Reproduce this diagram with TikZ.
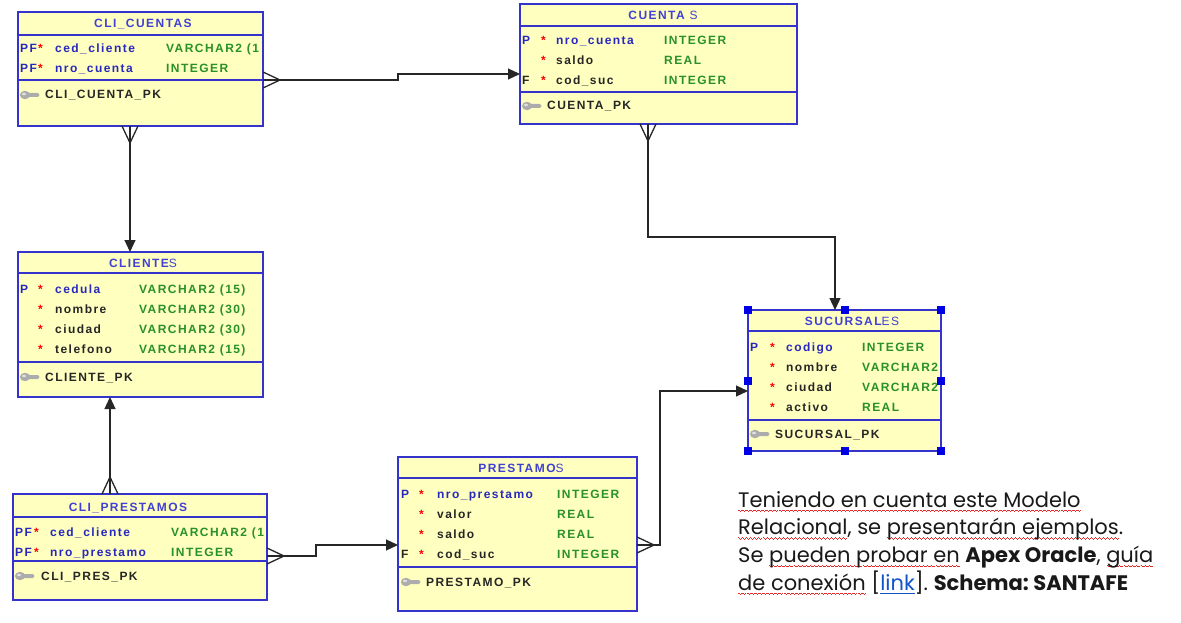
\documentclass[tikz,border=0pt]{standalone}
\usepackage{fontspec}
\setmainfont{Poppins}
\newfontfamily\erfont[LetterSpace=12]{Liberation Sans}
\usetikzlibrary{arrows.meta}

\definecolor{erfill}{RGB}{255,255,192}
\definecolor{erline}{RGB}{52,52,205}
\definecolor{ertitle}{RGB}{64,64,215}
\definecolor{erkey}{RGB}{40,40,190}
\definecolor{ergreen}{RGB}{40,145,40}
\definecolor{spellred}{RGB}{230,40,40}
\definecolor{linkblue}{RGB}{17,85,204}
\definecolor{notetext}{RGB}{25,25,25}

% red wavy line of the spell checker, and the link underline
\newcommand\spell[1]{\setbox0\hbox{#1}\rlap{\color{spellred}\lower4.5pt\hbox to\wd0{\xleaders\hbox{\rule[1.2pt]{1pt}{0.8pt}\rule[0.5pt]{1pt}{0.8pt}\rule[-0.2pt]{1pt}{0.8pt}\rule[0.5pt]{1pt}{0.8pt}}\hfil}}\box0\relax}
\newcommand\lnk[1]{\setbox0\hbox{#1}\rlap{\lower3.5pt\hbox{\rule{\wd0}{1.2pt}}}\box0\relax}

\tikzset{
  pkkey/.pic={
    \fill[gray!65] (-4,0) ellipse (5 and 4.2);
    \fill[gray!65] (0,-2) -- (9,-2) -- (10.5,0) -- (9,2) -- (0,2) -- cycle;
    \fill[gray!25] (-5,-1) ellipse (2 and 1.3);
  }
}

\begin{document}
\frenchspacing
\begin{tikzpicture}[
  x=1pt,y=-1pt,
  tbl/.style={draw=erline,line width=1.2,fill=erfill,anchor=north west,inner sep=0,outer sep=0},
  tblline/.style={draw=erline,line width=1.2},
  ttl/.style={anchor=base,inner sep=0,text=ertitle,font=\erfont\bfseries\fontsize{12}{14}\selectfont},
  flag/.style={anchor=base west,inner sep=0,text=erkey,font=\erfont\bfseries\fontsize{12}{14}\selectfont},
  star/.style={anchor=base west,inner sep=0,text=red,font=\erfont\bfseries\fontsize{12}{14}\selectfont},
  pk/.style={flag},
  np/.style={flag,text=black!85},
  typ/.style={flag,text=ergreen},
  keyname/.style={flag,text=black!85},
  fk/.style={draw=black!85,line width=1.2,-{Triangle[length=12pt,width=11pt]}},
  crow/.style={draw=black!85,line width=1.3},
  handle/.style={fill=blue!90!black},
  note/.style={anchor=north west,inner sep=0,align=left,text=notetext,font=\fontsize{21}{27.7}\selectfont}
]
  \useasboundingbox[fill=white] (0,0) rectangle (1181,623);

  % CLI_CUENTAS
  \node[tbl,minimum width=245,minimum height=114] (clicu) at (18,12) {};
  \draw[tblline] (18,35) -- (263,35);
  \draw[tblline] (18,80) -- (263,80);
  \node[ttl] (cc-t) at (143,28) {CLI\_CUENTAS};
  \foreach \f/\s/\n/\t [count=\i] in {PF/pk/ced\_cliente/VARCHAR2 (1,PF/pk/nro\_cuenta/INTEGER}{
    \node[flag] (cc-f\i) at (20,33+20*\i) {\f};
    \node[star] (cc-s\i) at (38,33+20*\i) {*};
    \node[\s] (cc-n\i) at (55,33+20*\i) {\n};
    \node[typ] (cc-y\i) at (166,33+20*\i) {\t};
  }
  \pic at (29,95) {pkkey};
  \node[keyname] (cc-k) at (45,99) {CLI\_CUENTA\_PK};

  % CUENTAS
  \node[tbl,minimum width=277,minimum height=120] (cuentas) at (520,4) {};
  \draw[tblline] (520,26) -- (797,26);
  \draw[tblline] (520,92) -- (797,92);
  \node[ttl] (cu-t) at (663,20) {CUENTA {\mdseries S}};
  \foreach \f/\s/\n/\t [count=\i] in {P/pk/nro\_cuenta/INTEGER,{}/np/saldo/REAL,{}/np/cod\_suc/INTEGER}{
    \node[flag] (cu-f\i) at (522,25+20*\i) {\f};
    \node[star] (cu-s\i) at (541,25+20*\i) {*};
    \node[\s] (cu-n\i) at (556,25+20*\i) {\n};
    \node[typ] (cu-y\i) at (664,25+20*\i) {\t};
  }
  \node[flag,text=black!85] (cu-f3b) at (522,85) {F};
  \pic at (531,106) {pkkey};
  \node[keyname] (cu-k) at (547,110) {CUENTA\_PK};

  % CLIENTES
  \node[tbl,minimum width=245,minimum height=145] (clientes) at (18,252) {};
  \draw[tblline] (18,273) -- (263,273);
  \draw[tblline] (18,362) -- (263,362);
  \node[ttl] (cl-t) at (143,267) {CLIENTE{\mdseries S}};
  \foreach \f/\s/\n/\t [count=\i] in {P/pk/cedula/VARCHAR2 (15),{}/np/nombre/VARCHAR2 (30),{}/np/ciudad/VARCHAR2 (30),{}/np/telefono/VARCHAR2 (15)}{
    \node[flag] (cl-f\i) at (20,273+20*\i) {\f};
    \node[star] (cl-s\i) at (38,273+20*\i) {*};
    \node[\s] (cl-n\i) at (55,273+20*\i) {\n};
    \node[typ] (cl-y\i) at (139,273+20*\i) {\t};
  }
  \pic at (29,377) {pkkey};
  \node[keyname] (cl-k) at (45,381) {CLIENTE\_PK};

  % CLI_PRESTAMOS
  \node[tbl,minimum width=254,minimum height=106] (cliprest) at (13,494) {};
  \draw[tblline] (13,517) -- (267,517);
  \draw[tblline] (13,561) -- (267,561);
  \node[ttl] (cp-t) at (128,511) {CLI\_PRESTAMOS};
  \foreach \f/\s/\n/\t [count=\i] in {PF/pk/ced\_cliente/VARCHAR2 (1,PF/pk/nro\_prestamo/INTEGER}{
    \node[flag] (cp-f\i) at (15,516+20*\i) {\f};
    \node[star] (cp-s\i) at (34,516+20*\i) {*};
    \node[\s] (cp-n\i) at (50,516+20*\i) {\n};
    \node[typ] (cp-y\i) at (171,516+20*\i) {\t};
  }
  \pic at (24,576) {pkkey};
  \node[keyname] (cp-k) at (41,580) {CLI\_PRES\_PK};

  % PRESTAMOS
  \node[tbl,minimum width=239,minimum height=154] (prestamos) at (398,457) {};
  \draw[tblline] (398,478) -- (637,478);
  \draw[tblline] (398,567) -- (637,567);
  \node[ttl] (pr-t) at (521,472) {PRESTAMO{\mdseries S}};
  \foreach \f/\s/\n/\t [count=\i] in {P/pk/nro\_prestamo/INTEGER,{}/np/valor/REAL,{}/np/saldo/REAL,{}/np/cod\_suc/INTEGER}{
    \node[flag] (pr-f\i) at (401,478+20*\i) {\f};
    \node[star] (pr-s\i) at (419,478+20*\i) {*};
    \node[\s] (pr-n\i) at (437,478+20*\i) {\n};
    \node[typ] (pr-y\i) at (557,478+20*\i) {\t};
  }
  \node[flag,text=black!85] (pr-f4b) at (401,558) {F};
  \pic at (410,582) {pkkey};
  \node[keyname] (pr-k) at (426,586) {PRESTAMO\_PK};

  % SUCURSALES
  \node[tbl,minimum width=193,minimum height=141] (sucursales) at (748,310) {};
  \draw[tblline] (748,331) -- (941,331);
  \draw[tblline] (748,420) -- (941,420);
  \node[ttl] (su-t) at (852,325) {SUCURSAL{\mdseries ES}};
  \foreach \f/\s/\n/\t [count=\i] in {P/pk/codigo/INTEGER,{}/np/nombre/VARCHAR2,{}/np/ciudad/VARCHAR2,{}/np/activo/REAL}{
    \node[flag] (su-f\i) at (750,331+20*\i) {\f};
    \node[star] (su-s\i) at (770,331+20*\i) {*};
    \node[\s] (su-n\i) at (786,331+20*\i) {\n};
    \node[typ] (su-y\i) at (862,331+20*\i) {\t};
  }
  \pic at (759,434) {pkkey};
  \node[keyname] (su-k) at (775,438) {SUCURSAL\_PK};

  % relations
  \draw[fk] ([yshift=-68pt]clicu.north east) -- ++(135,0) |- ([yshift=-70pt]cuentas.north west);
  \draw[crow] ([yshift=-60pt]clicu.north east) -- ++(17,8) -- ++(-17,8);

  \draw[fk] ([xshift=112pt]clicu.south west) -- ([xshift=112pt]clientes.north west);
  \draw[crow] ([xshift=104pt]clicu.south west) -- ++(8,17) -- ++(8,-17);

  \draw[fk] ([xshift=128pt]cuentas.south west) -- ++(0,113) -| ([xshift=87pt]sucursales.north west);
  \draw[crow] ([xshift=120pt]cuentas.south west) -- ++(8,17) -- ++(8,-17);

  \draw[fk] ([xshift=97pt]cliprest.north west) -- ([xshift=92pt]clientes.south west);
  \draw[crow] ([xshift=89pt]cliprest.north west) -- ++(8,-17) -- ++(8,17);

  \draw[fk] ([yshift=-62pt]cliprest.north east) -- ++(49,0) |- ([yshift=-88pt]prestamos.north west);
  \draw[crow] ([yshift=-54pt]cliprest.north east) -- ++(17,8) -- ++(-17,8);

  \draw[fk] ([yshift=-88pt]prestamos.north east) -- ++(23,0) |- ([yshift=-81pt]sucursales.north west);
  \draw[crow] ([yshift=-80pt]prestamos.north east) -- ++(17,8) -- ++(-17,8);

  % selection handles
  \foreach \a in {north west,north,north east,west,east,south west,south,south east}
    \fill[handle] (sucursales.\a) ++(-4,-4) rectangle ++(8,8);

  \node[note] (nota) at (738,491) {\spell{Teniendo en cuenta este Modelo}\\
    \spell{Relacional}, se \spell{presentarán ejemplos}.\\
    Se \spell{pueden probar en} \textbf{Apex Oracle}, \spell{guía}\\
    \spell{de conexión} [\textcolor{linkblue}{\lnk{link}}]. \textbf{Schema: SANTAFE}};
\end{tikzpicture}
\end{document}
